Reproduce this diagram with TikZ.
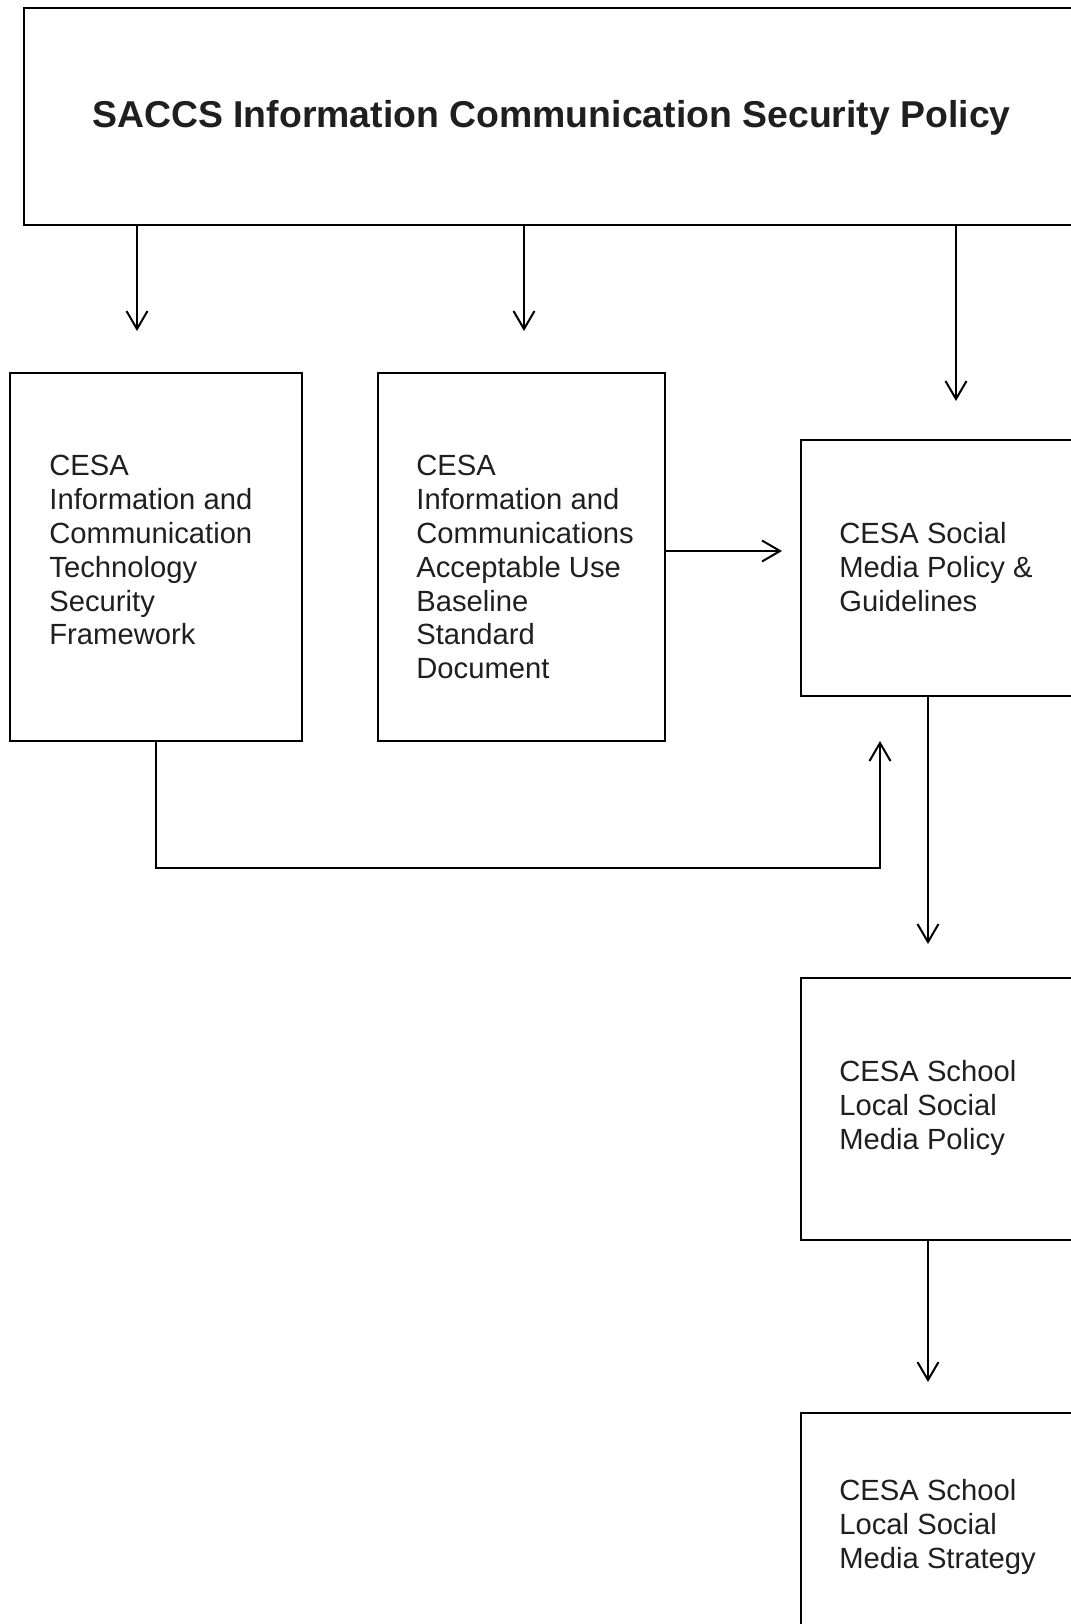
\documentclass[tikz,border=0pt]{standalone}
\usepackage{fontspec}
\setmainfont{Liberation Sans}
\usepackage{tikz}
\usetikzlibrary{arrows.meta}

\tikzset{
    frame/.style={draw, line width=0.75pt, rectangle, inner sep=0pt, anchor=north west},
    boxtext/.style={anchor=north west, inner sep=0pt, align=left, text=black!88,
        font=\fontsize{14.6pt}{16.9pt}\selectfont},
    arr/.style={line width=1pt, -{Straight Barb[length=9pt, width=10.5pt, line width=1pt]}}
}

\begin{document}
\begin{tikzpicture}[x=0.5pt, y=-0.5pt]
    \useasboundingbox (0,0) rectangle (1071,1624);
    % boxes
    \node[frame, minimum width=540pt, minimum height=108.5pt] (top) at (23,7) {};
    \node[text=black!88, font=\bfseries\fontsize{18.7pt}{22pt}\selectfont] (title) at (551.5,118)
        {SACCS Information Communication Security Policy};
    \node[frame, minimum width=146pt, minimum height=184pt] (left) at (9,372) {};
    \node[frame, minimum width=143.5pt, minimum height=184pt] (mid) at (377,372) {};
    \node[frame, minimum width=150pt, minimum height=128pt] (social) at (800,439) {};
    \node[frame, minimum width=150pt, minimum height=131pt] (policy) at (800,977) {};
    \node[frame, minimum width=150pt, minimum height=130pt] (strategy) at (800,1412) {};

    % texts
    \node[boxtext] (lefttext) at (49,455) {CESA\\Information and\\Communication\\Technology\\Security\\Framework};
    \node[boxtext] (midtext) at (416,455) {CESA\\Information and\\Communications\\Acceptable Use\\Baseline\\Standard\\Document};
    \node[boxtext] (socialtext) at (839,522) {CESA Social\\Media Policy \&\\Guidelines};
    \node[boxtext] (policytext) at (839,1060) {CESA School\\Local Social\\Media Policy};
    \node[boxtext] (strategytext) at (839,1479) {CESA School\\Local Social\\Media Strategy};

    % arrow ends
    \coordinate (a1) at (137,331);
    \coordinate (a2) at (524,331);
    \coordinate (a3) at (956,401);
    \coordinate (hz) at (782,551);
    \coordinate (fbdrop) at (156,868);
    \coordinate (fbtip) at (880,741);
    \coordinate (d1) at (928,944);
    \coordinate (d2) at (928,1382);

    \draw[arr] (top.south -| a1) -- (a1);
    \draw[arr] (top.south -| a2) -- (a2);
    \draw[arr] (top.south -| a3) -- (a3);
    \draw[arr] (mid.east |- hz) -- (hz);
    \draw[arr] (left.south -| fbdrop) -- (fbdrop) -| (fbtip);
    \draw[arr] (social.south -| d1) -- (d1);
    \draw[arr] (policy.south -| d2) -- (d2);
\end{tikzpicture}
\end{document}
